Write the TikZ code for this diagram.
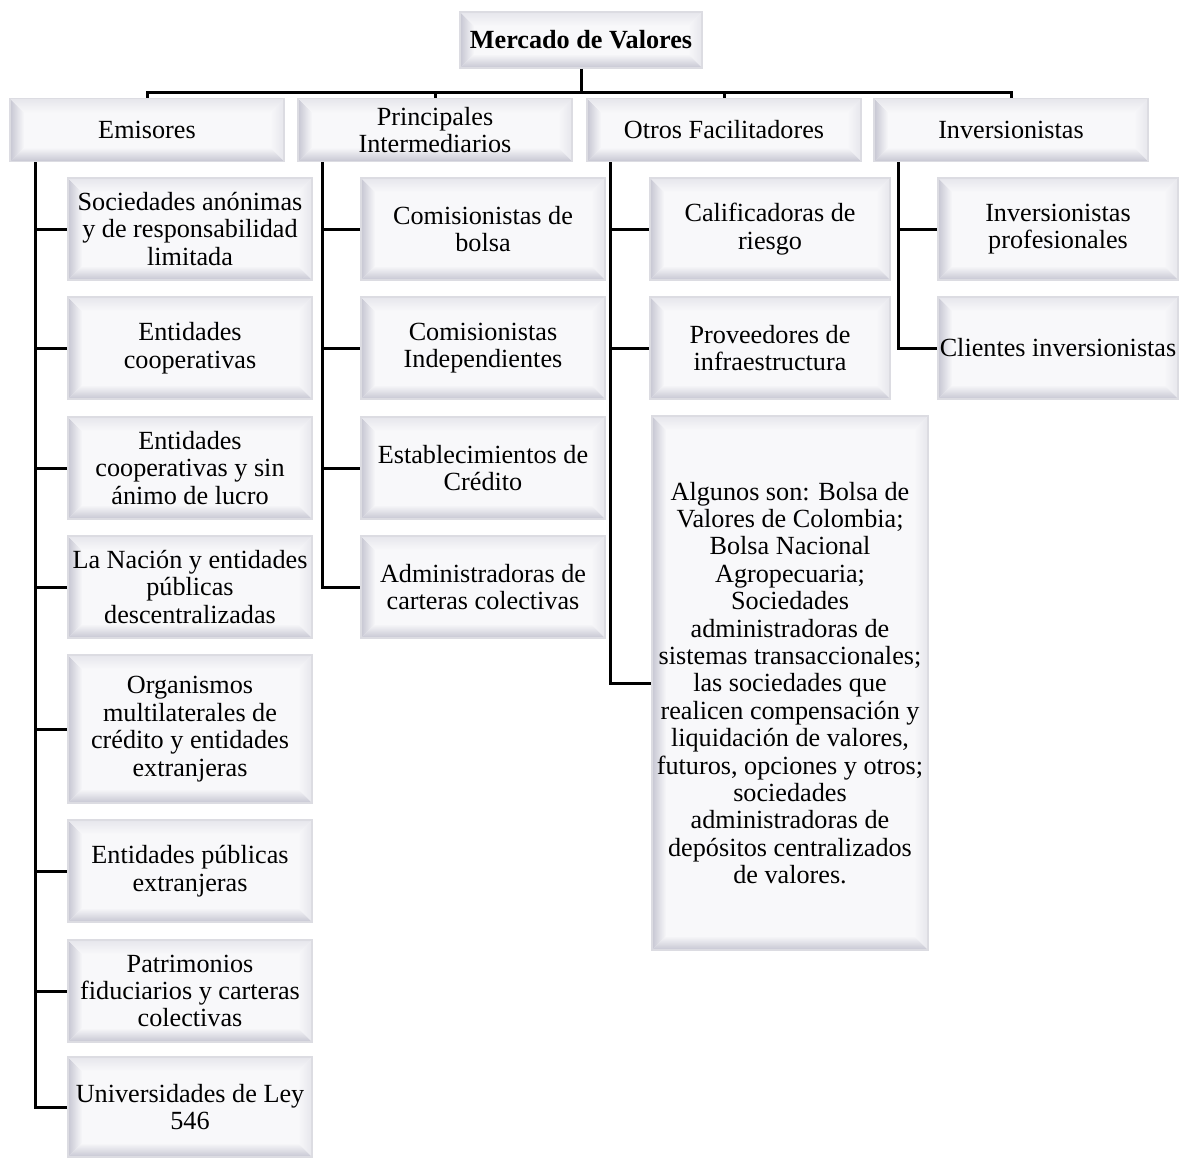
\documentclass[tikz,border=0pt]{standalone}
\usepackage{fontspec}
\setmainfont{Liberation Serif}
\usetikzlibrary{calc}
\definecolor{bordc}{HTML}{DCDCE2}
\definecolor{facec}{HTML}{F8F8FA}
\definecolor{bevd}{HTML}{C6C6D2}
\definecolor{bevl}{HTML}{E6E6EC}
\newcommand\fs{\fontsize{13.1}{13.7}\selectfont}
\tikzset{
  bevel/.style={path picture={
    \coordinate (pa) at (path picture bounding box.north west);
    \coordinate (pb) at (path picture bounding box.north east);
    \coordinate (pc) at (path picture bounding box.south east);
    \coordinate (pd) at (path picture bounding box.south west);
    \shade[left color=bevd, right color=facec] (pa) -- ([shift={(7pt,-7pt)}]pa) -- ([shift={(7pt,7pt)}]pd) -- (pd) -- cycle;
    \shade[top color=bevl, bottom color=facec] (pa) -- (pb) -- ([shift={(-7pt,-7pt)}]pb) -- ([shift={(7pt,-7pt)}]pa) -- cycle;
    \shade[left color=facec, right color=bevl] (pb) -- (pc) -- ([shift={(-7pt,7pt)}]pc) -- ([shift={(-7pt,-7pt)}]pb) -- cycle;
    \shade[top color=facec, bottom color=bevd] (pd) -- ([shift={(7pt,7pt)}]pd) -- ([shift={(-7pt,7pt)}]pc) -- (pc) -- cycle;
  }},
  bx/.style={bevel, draw=bordc, line width=0.8pt, fill=facec, align=center, font=\fs, inner sep=0pt},
  lone/.style={bx, minimum width=137pt, minimum height=31.5pt},
  kid/.style={bx, minimum width=122pt, minimum height=51pt},
  txt/.style={align=center, font=\fs, inner sep=0pt},
  ln/.style={line width=1.5pt, black},
}
\begin{document}
\begin{tikzpicture}[x=0.5pt,y=-0.5pt]
\useasboundingbox (0,0) rectangle (1186,1157);
% root
\node[bx, minimum width=121pt, minimum height=28pt, font=\fs\bfseries] (root) at (581,40) {Mercado de Valores};
% level 1
\node[lone] (e) at (147,130) {Emisores};
\node[lone] (p) at (435,130) {Principales\\Intermediarios};
\node[lone] (o) at (724,130) {Otros Facilitadores};
\node[lone] (i) at (1011,130) {Inversionistas};
% Emisores children
\node[kid] (e1) at (190,229) {Sociedades anónimas\\y de responsabilidad\\limitada};
\node[kid] (e2) at (190,348) {Entidades\\cooperativas};
\node[kid] (e3) at (190,468) {Entidades\\cooperativas y sin\\ánimo de lucro};
\node[kid] (e4) at (190,587) {La Nación y entidades\\públicas\\descentralizadas};
\node[kid, minimum height=74pt] (e5) at (190,729) {Organismos\\multilaterales de\\crédito y entidades\\extranjeras};
\node[kid] (e6) at (190,871) {Entidades públicas\\extranjeras};
\node[kid] (e7) at (190,991) {Patrimonios\\fiduciarios y carteras\\colectivas};
\node[kid, minimum height=50pt] (e8) at (190,1107) {Universidades de Ley\\546};
% Principales children
\node[kid] (p1) at (483,229) {Comisionistas de\\bolsa};
\node[kid] (p2) at (483,348) {Comisionistas\\Independientes};
\node[kid] (p3) at (483,468) {Establecimientos de\\Crédito};
\node[kid] (p4) at (483,587) {Administradoras de\\carteras colectivas};
% Otros children
\node[kid, minimum width=120pt] (o1) at (770,229) {Calificadoras de\\riesgo};
\node[kid, minimum width=120pt] (o2) at (770,348) {Proveedores de\\infraestructura};
\node[kid, minimum width=138pt, minimum height=267pt] (o3) at (790,683) {};
\node[txt] (o3t) at (o3.center) {Algunos son: Bolsa de\\Valores de Colombia;\\Bolsa Nacional\\Agropecuaria;\\Sociedades\\administradoras de\\sistemas transaccionales;\\las sociedades que\\realicen compensación y\\liquidación de valores,\\futuros, opciones y otros;\\sociedades\\administradoras de\\depósitos centralizados\\de valores.};
% Inversionistas children
\node[kid, minimum width=120pt] (i1) at (1058,229) {Inversionistas\\profesionales};
\node[kid, minimum width=120pt] (i2) at (1058,348) {Clientes inversionistas};
% top connectors
\coordinate (bus) at (0,92);
\draw[ln] (root.south) -- (root.south |- bus);
\draw[ln, line cap=rect] (e.north |- bus) -- (i.north |- bus);
\foreach \n in {e,p,o,i} \draw[ln] (\n.north |- bus) -- (\n.north);
% child connectors
\coordinate (ev) at (35,0);
\coordinate (pv) at (322,0);
\coordinate (ov) at (610,0);
\coordinate (iv) at (898,0);
\foreach \c in {e1,e2,e3,e4,e5,e6,e7,e8} \draw[ln] (ev |- e.south) |- (\c.west);
\foreach \c in {p1,p2,p3,p4} \draw[ln] (pv |- p.south) |- (\c.west);
\foreach \c in {o1,o2,o3} \draw[ln] (ov |- o.south) |- (\c.west);
\foreach \c in {i1,i2} \draw[ln] (iv |- i.south) |- (\c.west);
\end{tikzpicture}
\end{document}
